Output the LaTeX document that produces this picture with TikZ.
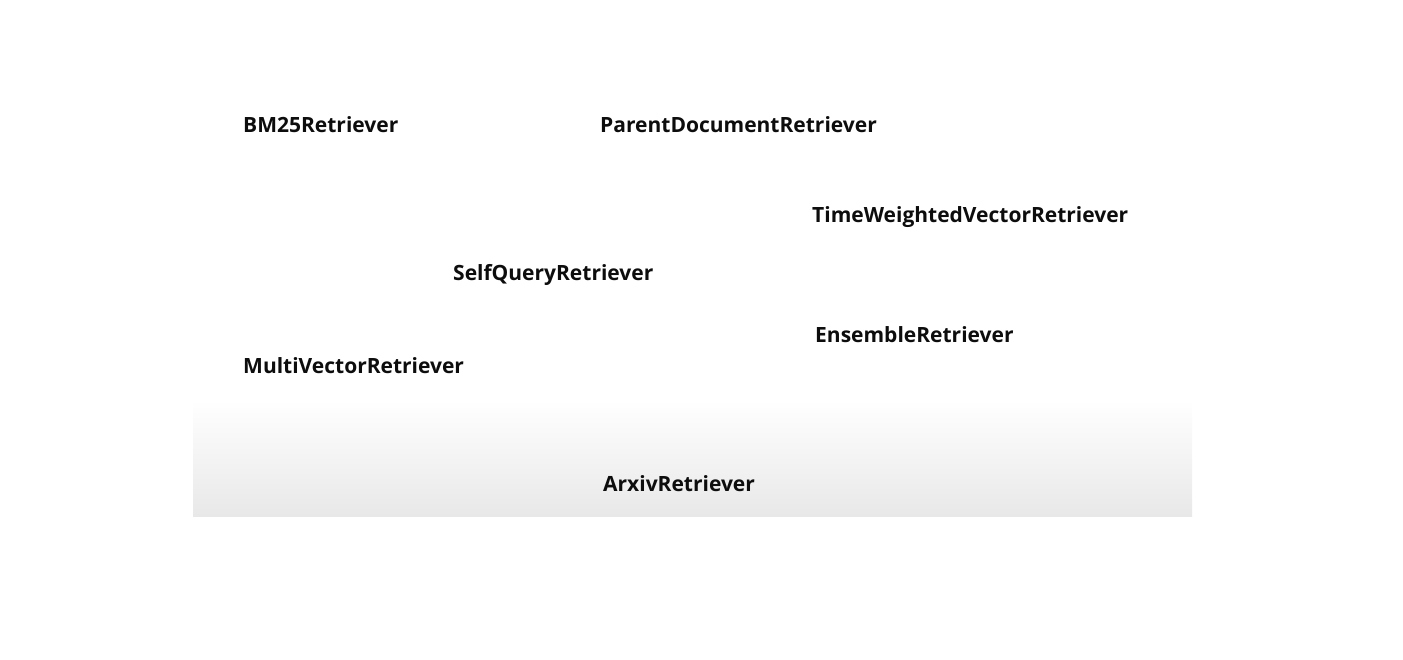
\documentclass[tikz,border=0pt]{standalone}
\usepackage{fontspec}
\setmainfont{Open Sans}
\usepackage{tikz}
\usetikzlibrary{positioning}

\begin{document}
\begin{tikzpicture}[x=1pt,y=1pt,yscale=-1,xscale=1,
		lbl/.style={anchor=base west,inner sep=0pt,font=\fontsize{21}{24}\selectfont\bfseries,text=black!95}]
		\useasboundingbox (0,0) rectangle (1403,660);

		%Shape: Rectangle [id:band]
		\shade [top color=white,bottom color=black!9] (193,400) rectangle (1192,516);

		% Text Node
		\node (bm25) [lbl] at (243,133) {BM25Retriever};
		% Text Node
		\node (parent) [lbl] at (600,133) {ParentDocumentRetriever};
		% Text Node
		\node (timew) [lbl] at (812,223) {TimeWeightedVectorRetriever};
		% Text Node
		\node (selfq) [lbl] at (453,281) {SelfQueryRetriever};
		% Text Node
		\node (ensemble) [lbl] at (815,342) {EnsembleRetriever};
		% Text Node
		\node (multiv) [lbl] at (243,373) {MultiVectorRetriever};
		% Text Node
		\node (arxiv) [lbl] at (603,491) {ArxivRetriever};

	\end{tikzpicture}
\end{document}
